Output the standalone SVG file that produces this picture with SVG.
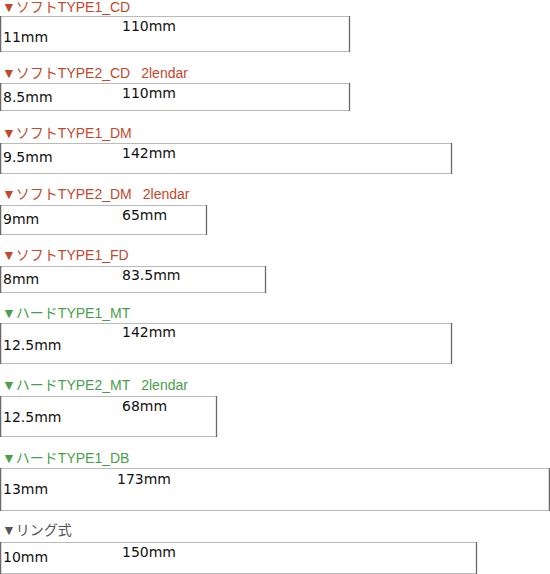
<svg xmlns="http://www.w3.org/2000/svg" width="550" height="574" viewBox="0 0 550 574">
<style>
text{font-family:"Liberation Sans","Noto Sans CJK JP",sans-serif;font-size:14px;white-space:pre}
.r{fill:#c2482b}.g{fill:#4aa04a}.k{fill:#555}
.v{fill:#111;font-family:"DejaVu Sans",sans-serif;font-size:14px}
.b{fill:#fff;stroke:#bbb;stroke-width:1}
.s{stroke:#6a6a6a;stroke-width:1.3}
</style>
<rect width="550" height="574" fill="#fff"/>
<g id="n1"><text class="r" x="2" y="12">▼ソフトTYPE1_CD</text><rect class="b" x="0.5" y="16.5" width="349" height="35"/><line class="s" x1="0.6" y1="16" x2="0.6" y2="52"/><line class="s" x1="349.5" y1="16" x2="349.5" y2="52"/><text class="v" x="122" y="31">110mm</text><text class="v" x="3" y="42">11mm</text></g>
<g id="n2"><text class="r" x="2" y="78">▼ソフトTYPE2_CD<tspan dx="11">2lendar</tspan></text><rect class="b" x="0.5" y="83.5" width="349" height="27"/><line class="s" x1="0.6" y1="83" x2="0.6" y2="111"/><line class="s" x1="349.5" y1="83" x2="349.5" y2="111"/><text class="v" x="122" y="98">110mm</text><text class="v" x="3" y="102">8.5mm</text></g>
<g id="n3"><text class="r" x="2" y="138">▼ソフトTYPE1_DM</text><rect class="b" x="0.5" y="143.5" width="451" height="30"/><line class="s" x1="0.6" y1="143" x2="0.6" y2="174"/><line class="s" x1="451.5" y1="143" x2="451.5" y2="174"/><text class="v" x="122" y="158">142mm</text><text class="v" x="3" y="162">9.5mm</text></g>
<g id="n4"><text class="r" x="2" y="199">▼ソフトTYPE2_DM<tspan dx="11">2lendar</tspan></text><rect class="b" x="0.5" y="205.5" width="206" height="29"/><line class="s" x1="0.6" y1="205" x2="0.6" y2="235"/><line class="s" x1="206.5" y1="205" x2="206.5" y2="235"/><text class="v" x="122" y="220">65mm</text><text class="v" x="3" y="224">9mm</text></g>
<g id="n5"><text class="r" x="2" y="260">▼ソフトTYPE1_FD</text><rect class="b" x="0.5" y="266.5" width="265" height="26"/><line class="s" x1="0.6" y1="266" x2="0.6" y2="293"/><line class="s" x1="265.5" y1="266" x2="265.5" y2="293"/><text class="v" x="122" y="280">83.5mm</text><text class="v" x="3" y="284">8mm</text></g>
<g id="n6"><text class="g" x="2" y="318">▼ハードTYPE1_MT</text><rect class="b" x="0.5" y="323.5" width="451" height="40"/><line class="s" x1="0.6" y1="323" x2="0.6" y2="364"/><line class="s" x1="451.5" y1="323" x2="451.5" y2="364"/><text class="v" x="122" y="337">142mm</text><text class="v" x="3" y="350">12.5mm</text></g>
<g id="n7"><text class="g" x="2" y="390">▼ハードTYPE2_MT<tspan dx="11">2lendar</tspan></text><rect class="b" x="0.5" y="396.5" width="216" height="40"/><line class="s" x1="0.6" y1="396" x2="0.6" y2="437"/><line class="s" x1="216.5" y1="396" x2="216.5" y2="437"/><text class="v" x="122" y="411">68mm</text><text class="v" x="3" y="422">12.5mm</text></g>
<g id="n8"><text class="g" x="2" y="463">▼ハードTYPE1_DB</text><rect class="b" x="0.5" y="468.5" width="549" height="42"/><line class="s" x1="0.6" y1="468" x2="0.6" y2="511"/><line class="s" x1="549.4" y1="468" x2="549.4" y2="511"/><text class="v" x="117" y="484">173mm</text><text class="v" x="3" y="494">13mm</text></g>
<g id="n9"><text class="k" x="2" y="535">▼リング式</text><rect class="b" x="0.5" y="542.5" width="476" height="31"/><line class="s" x1="0.6" y1="542" x2="0.6" y2="574"/><line class="s" x1="476.5" y1="542" x2="476.5" y2="574"/><text class="v" x="122" y="557">150mm</text><text class="v" x="3" y="562">10mm</text></g>
<g id="connectors"/>
</svg>
